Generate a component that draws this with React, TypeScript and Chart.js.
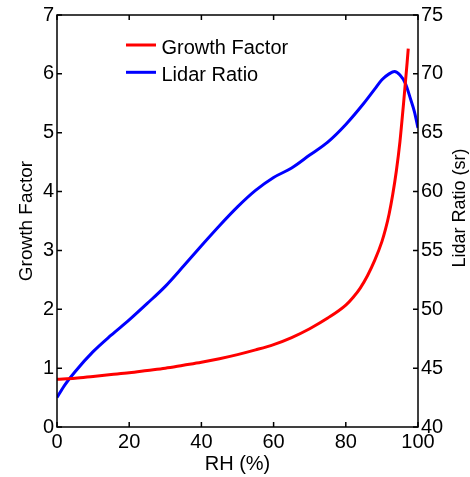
import React, { useEffect, useRef } from "react";
import { Chart, registerables } from "chart.js";

Chart.register(...registerables);

const rhGrowth = [0, 5, 10, 15, 20, 25, 30, 35, 40, 45, 50, 55, 60, 65, 70, 75, 80, 82, 84, 86, 88, 90, 91, 92, 93, 94, 95, 96, 97, 97.3];
const growthFactor = [0.81, 0.83, 0.86, 0.89, 0.92, 0.96, 1.0, 1.05, 1.1, 1.16, 1.23, 1.31, 1.4, 1.52, 1.67, 1.85, 2.07, 2.2, 2.36, 2.57, 2.83, 3.15, 3.36, 3.62, 3.95, 4.35, 4.85, 5.5, 6.2, 6.43];

const rhLidar = [0, 2, 5, 10, 15, 20, 25, 30, 35, 40, 45, 50, 55, 60, 65, 70, 75, 80, 85, 88, 90, 92, 93.5, 95, 96.5, 98, 99, 100];
const lidarRatio = [42.5, 43.5, 44.7, 46.4, 47.8, 49.1, 50.5, 51.95, 53.65, 55.4, 57.1, 58.7, 60.1, 61.2, 62.0, 63.1, 64.2, 65.7, 67.5, 68.7, 69.5, 70.0, 70.2, 69.9, 69.2, 67.8, 66.8, 65.4];

const xTicks = [0, 20, 40, 60, 80, 100];
const leftTicks = [0, 1, 2, 3, 4, 5, 6, 7];
const rightTicks = [40, 45, 50, 55, 60, 65, 70, 75];

const xTitle = "RH (%)";
const leftTitle = "Growth Factor";
const rightTitle = "Lidar Ratio (sr)";
const seriesLabels = ["Growth Factor", "Lidar Ratio"];

const FONT = "'Liberation Sans', Arial, Helvetica, sans-serif";

const framePlugin = {
  id: "frame",
  afterDraw(chart: any) {
    const { ctx, chartArea: a, scales } = chart;
    ctx.save();
    ctx.strokeStyle = "#000";
    ctx.lineWidth = 1.5;
    ctx.strokeRect(a.left, a.top, a.right - a.left, a.bottom - a.top);
    const L = 5;
    ctx.beginPath();
    for (const v of xTicks) {
      const px = scales.x.getPixelForValue(v);
      ctx.moveTo(px, a.bottom);
      ctx.lineTo(px, a.bottom - L);
      ctx.moveTo(px, a.top);
      ctx.lineTo(px, a.top + L);
    }
    for (const v of leftTicks) {
      const py = scales.y.getPixelForValue(v);
      ctx.moveTo(a.left, py);
      ctx.lineTo(a.left + L, py);
    }
    for (const v of rightTicks) {
      const py = scales.y2.getPixelForValue(v);
      ctx.moveTo(a.right, py);
      ctx.lineTo(a.right - L, py);
    }
    ctx.stroke();

    // axis titles
    ctx.fillStyle = "#000";
    ctx.textBaseline = "alphabetic";
    ctx.textAlign = "center";
    ctx.font = `20px ${FONT}`;
    ctx.fillText(xTitle, (a.left + a.right) / 2, 470);

    ctx.save();
    ctx.font = `19px ${FONT}`;
    ctx.translate(32, (a.top + a.bottom) / 2);
    ctx.rotate(-Math.PI / 2);
    ctx.fillText(leftTitle, 0, 0);
    ctx.restore();

    ctx.save();
    ctx.font = `18px ${FONT}`;
    ctx.translate(464.5, 208);
    ctx.rotate(-Math.PI / 2);
    ctx.fillText(rightTitle, 0, 0);
    ctx.restore();

    // legend
    const ds = chart.data.datasets;
    ctx.font = `20px ${FONT}`;
    ctx.textAlign = "left";
    const rows = [45, 72.3];
    ds.forEach((d: any, i: number) => {
      const y = rows[i];
      ctx.strokeStyle = d.borderColor;
      ctx.lineWidth = 3;
      ctx.beginPath();
      ctx.moveTo(126, y);
      ctx.lineTo(156, y);
      ctx.stroke();
      ctx.fillStyle = "#000";
      ctx.fillText(d.label, 161.5, y + 8.8);
    });
    ctx.restore();
  },
};

export default function App() {
  const ref = useRef<HTMLCanvasElement | null>(null);

  useEffect(() => {
    document.body.style.margin = "0";
    const canvas = ref.current;
    if (!canvas) return;
    const tickFont = { family: FONT, size: 20 };
    const chart = new Chart(canvas, {
      type: "scatter",
      data: {
        datasets: [
          {
            label: seriesLabels[0],
            data: rhGrowth.map((x, i) => ({ x, y: growthFactor[i] })),
            borderColor: "#ff0000",
            backgroundColor: "#ff0000",
            borderWidth: 3,
            showLine: true,
            pointRadius: 0,
            cubicInterpolationMode: "monotone",
            yAxisID: "y",
          },
          {
            label: seriesLabels[1],
            data: rhLidar.map((x, i) => ({ x, y: lidarRatio[i] })),
            borderColor: "#0000ff",
            backgroundColor: "#0000ff",
            borderWidth: 3,
            showLine: true,
            pointRadius: 0,
            cubicInterpolationMode: "monotone",
            yAxisID: "y2",
          },
        ],
      },
      options: {
        responsive: false,
        animation: false,
        devicePixelRatio: 1,
        layout: { padding: { top: 15, left: 0, right: 0, bottom: 0 } },
        plugins: { legend: { display: false }, tooltip: { enabled: false } },
        scales: {
          x: {
            type: "linear",
            min: 0,
            max: 100,
            afterBuildTicks: (s: any) => {
              s.ticks = xTicks.map((v) => ({ value: v }));
            },
            afterFit: (s: any) => {
              s.height = 50;
            },
            grid: { display: false, drawTicks: false },
            border: { display: false },
            ticks: { font: tickFont, color: "#000", padding: 3, maxRotation: 0, autoSkip: false },
          },
          y: {
            type: "linear",
            position: "left",
            min: 0,
            max: 7,
            afterBuildTicks: (s: any) => {
              s.ticks = leftTicks.map((v) => ({ value: v }));
            },
            afterFit: (s: any) => {
              s.width = 57;
            },
            grid: { display: false, drawTicks: false },
            border: { display: false },
            ticks: { font: tickFont, color: "#000", padding: 3, autoSkip: false },
          },
          y2: {
            type: "linear",
            position: "right",
            min: 40,
            max: 75,
            afterBuildTicks: (s: any) => {
              s.ticks = rightTicks.map((v) => ({ value: v }));
            },
            afterFit: (s: any) => {
              s.width = 52;
            },
            grid: { display: false, drawTicks: false },
            border: { display: false },
            ticks: { font: tickFont, color: "#000", padding: 3, autoSkip: false },
          },
        },
      } as any,
      plugins: [framePlugin],
    });
    return () => chart.destroy();
  }, []);

  return <canvas ref={ref} width={470} height={477} style={{ display: "block" }} />;
}
